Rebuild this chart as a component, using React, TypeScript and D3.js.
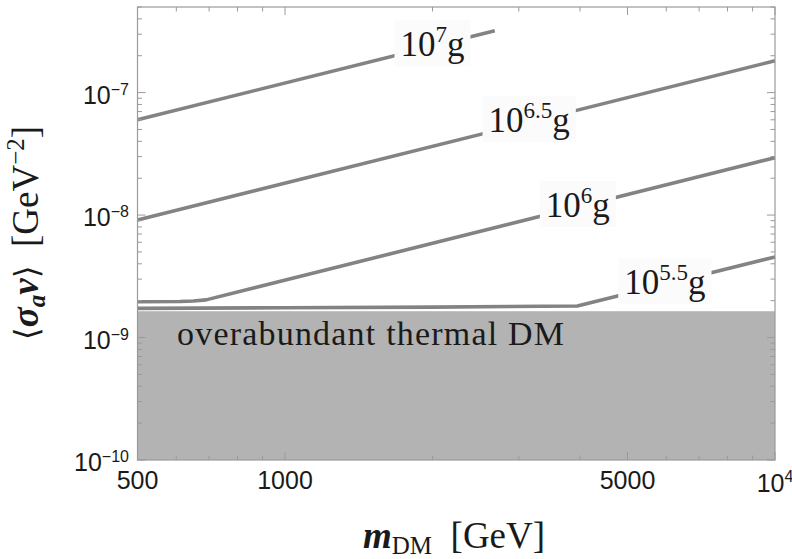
import React, { useEffect, useRef } from "react";
import * as d3 from "d3";

const W = 792;
const H = 559;

const xDomain: [number, number] = [500, 10000];
const yDomain: [number, number] = [1e-10, 5e-7];

const xMajorTicks = [500, 1000, 5000, 10000];
const xTickBase = ["500", "1000", "5000", "10"];
const xTickSup = ["", "", "", "4"];
const xMinorTicks = [600, 700, 800, 900, 2000, 3000, 4000, 6000, 7000, 8000, 9000];

const yMajorTicks = [1e-10, 1e-9, 1e-8, 1e-7];
const yTickSup = ["\u221210", "\u22129", "\u22128", "\u22127"];
const yMinorMultipliers = [2, 3, 4, 5, 6, 7, 8, 9];
const yMinorDecades = [1e-10, 1e-9, 1e-8, 1e-7];

// contour lines: mass [GeV] and <sigma v> [GeV^-2]
const mass7 = [500, 2680];
const sigma7 = [6.0e-8, 3.2e-7];
const mass65 = [500, 10000];
const sigma65 = [9.1e-9, 1.82e-7];
const mass6 = [500, 610, 650, 690, 10000];
const sigma6 = [1.96e-9, 1.97e-9, 1.99e-9, 2.03e-9, 2.94e-8];
const mass55 = [500, 1000, 2000, 3950, 10000];
const sigma55 = [1.73e-9, 1.75e-9, 1.77e-9, 1.81e-9, 4.55e-9];

const contourExp = ["7", "6.5", "6", "5.5"];
const contourLabelMass = [2000, 3150, 3960, 5960];

const thermalBound = 1.64e-9;
const regionLabel = "overabundant thermal DM";

export default function App() {
  const ref = useRef<SVGSVGElement>(null);

  useEffect(() => {
    const svg = d3.select(ref.current as SVGSVGElement);
    svg.selectAll("*").remove();

    const left = 137.5, right = 775, top = 7, bottom = 460;
    const x = d3.scaleLog().domain(xDomain).range([left, right]);
    const y = d3.scaleLog().domain(yDomain).range([bottom, top]);

    const serif = "'Liberation Serif', 'DejaVu Serif', serif";
    const sans = "'Liberation Sans', Arial, sans-serif";
    const frameColor = "#9a9a9a";

    svg.append("rect").attr("width", W).attr("height", H).attr("fill", "#fff");

    // shaded region
    svg.append("rect")
      .attr("x", left).attr("y", y(thermalBound))
      .attr("width", right - left).attr("height", bottom - y(thermalBound))
      .attr("fill", "#b3b3b3");

    svg.append("text")
      .attr("x", 177).attr("y", 345)
      .attr("font-family", serif).attr("font-size", 34)
      .attr("letter-spacing", 1.2)
      .attr("fill", "#1a1a1a")
      .text(regionLabel);

    // contour lines
    const contours = [
      { mass: mass7, sigma: sigma7 },
      { mass: mass65, sigma: sigma65 },
      { mass: mass6, sigma: sigma6 },
      { mass: mass55, sigma: sigma55 },
    ];
    const line = d3.line<[number, number]>().x(d => x(d[0])).y(d => y(d[1]));
    const gLines = svg.append("g");
    contours.forEach(c => {
      gLines.append("path")
        .attr("d", line(d3.zip(c.mass, c.sigma) as [number, number][]) || "")
        .attr("fill", "none").attr("stroke", "#838383")
        .attr("stroke-width", 3.6).attr("stroke-linejoin", "round");
    });

    // contour labels
    const interp = (ms: number[], ss: number[], m: number) => {
      for (let i = 0; i < ms.length - 1; i++) {
        if (m >= ms[i] && m <= ms[i + 1]) {
          const t = (Math.log(m) - Math.log(ms[i])) / (Math.log(ms[i + 1]) - Math.log(ms[i]));
          return Math.exp(Math.log(ss[i]) + t * (Math.log(ss[i + 1]) - Math.log(ss[i])));
        }
      }
      return ss[ss.length - 1];
    };
    contours.forEach((c, i) => {
      const m = contourLabelMass[i];
      const cx = x(m), cy = y(interp(c.mass, c.sigma, m));
      const gl = svg.append("g").attr("transform", `translate(${cx},${cy})`);
      const rect = gl.append("rect");
      const t = gl.append("text")
        .attr("x", 0).attr("y", 10)
        .attr("text-anchor", "middle")
        .attr("font-family", serif).attr("font-size", 35).attr("fill", "#1a1a1a");
      t.append("tspan").text("10");
      t.append("tspan").attr("font-size", 23).attr("dy", -14).text(contourExp[i]);
      t.append("tspan").attr("dy", 14).text("g");
      const bb = (t.node() as SVGTextElement).getBBox();
      rect.attr("x", bb.x - 6).attr("y", bb.y - 2)
        .attr("width", bb.width + 12).attr("height", bb.height + 4)
        .attr("fill", "#fbfbfb");
    });

    // frame
    svg.append("rect")
      .attr("x", left).attr("y", top).attr("width", right - left).attr("height", bottom - top)
      .attr("fill", "none").attr("stroke", frameColor).attr("stroke-width", 1.2);

    const ticks = svg.append("g").attr("stroke", frameColor).attr("stroke-width", 1);
    const majLen = 8, minLen = 4.5;
    xMajorTicks.forEach(v => {
      ticks.append("line").attr("x1", x(v)).attr("x2", x(v)).attr("y1", bottom).attr("y2", bottom - majLen);
      ticks.append("line").attr("x1", x(v)).attr("x2", x(v)).attr("y1", top).attr("y2", top + majLen);
    });
    xMinorTicks.forEach(v => {
      ticks.append("line").attr("x1", x(v)).attr("x2", x(v)).attr("y1", bottom).attr("y2", bottom - minLen);
      ticks.append("line").attr("x1", x(v)).attr("x2", x(v)).attr("y1", top).attr("y2", top + minLen);
    });
    yMajorTicks.forEach(v => {
      ticks.append("line").attr("x1", left).attr("x2", left + majLen).attr("y1", y(v)).attr("y2", y(v));
      ticks.append("line").attr("x1", right).attr("x2", right - majLen).attr("y1", y(v)).attr("y2", y(v));
    });
    yMinorDecades.forEach(d => {
      yMinorMultipliers.forEach(k => {
        const v = d * k;
        if (v > yDomain[1]) return;
        ticks.append("line").attr("x1", left).attr("x2", left + minLen).attr("y1", y(v)).attr("y2", y(v));
        ticks.append("line").attr("x1", right).attr("x2", right - minLen).attr("y1", y(v)).attr("y2", y(v));
      });
    });

    // x tick labels
    xMajorTicks.forEach((v, i) => {
      const t = svg.append("text")
        .attr("x", x(v)).attr("y", xTickSup[i] ? 492 : 489)
        .attr("text-anchor", "middle")
        .attr("font-family", sans).attr("font-size", 25).attr("fill", "#1a1a1a");
      t.append("tspan").text(xTickBase[i]);
      if (xTickSup[i]) t.append("tspan").attr("font-size", 16).attr("dy", -10).text(xTickSup[i]);
    });

    // y tick labels
    yMajorTicks.forEach((v, i) => {
      const t = svg.append("text")
        .attr("x", 129).attr("y", y(v) + 11)
        .attr("text-anchor", "end")
        .attr("font-family", sans).attr("font-size", 25).attr("fill", "#1a1a1a");
      t.append("tspan").text("10");
      t.append("tspan").attr("font-size", 16).attr("dy", -9).text(yTickSup[i]);
    });

    // x axis label
    const xl = svg.append("text")
      .attr("x", 363).attr("y", 548)
      .attr("font-family", serif).attr("font-size", 37).attr("fill", "#1a1a1a");
    xl.append("tspan").attr("font-weight", "bold").attr("font-style", "italic").text("m");
    xl.append("tspan").attr("font-size", 25).attr("dy", 6).text("DM");
    xl.append("tspan").attr("dy", -6).text("\u2002[GeV]");

    // y axis label
    const yl = svg.append("text")
      .attr("transform", "translate(38,233) rotate(-90)")
      .attr("text-anchor", "middle")
      .attr("font-family", serif).attr("font-size", 37).attr("fill", "#1a1a1a");
    yl.append("tspan").attr("font-family", "'DejaVu Serif', serif").attr("font-size", 33).text("\u27E8");
    yl.append("tspan").attr("font-weight", "bold").attr("font-style", "italic").text("\u03C3");
    yl.append("tspan").attr("font-style", "italic").attr("font-weight", "bold").attr("font-size", 25).attr("dy", 7).text("a");
    yl.append("tspan").attr("font-weight", "bold").attr("font-style", "italic").attr("dy", -7).text("v");
    yl.append("tspan").attr("font-family", "'DejaVu Serif', serif").attr("font-size", 33).text("\u27E9");
    yl.append("tspan").text("\u2002[GeV");
    yl.append("tspan").attr("font-size", 25).attr("dy", -14).text("\u22122");
    yl.append("tspan").attr("dy", 14).text("]");
  }, []);

  return (
    <svg
      ref={ref}
      width={W}
      height={H}
      style={{ position: "absolute", left: 0, top: 0, background: "#fff" }}
    />
  );
}
